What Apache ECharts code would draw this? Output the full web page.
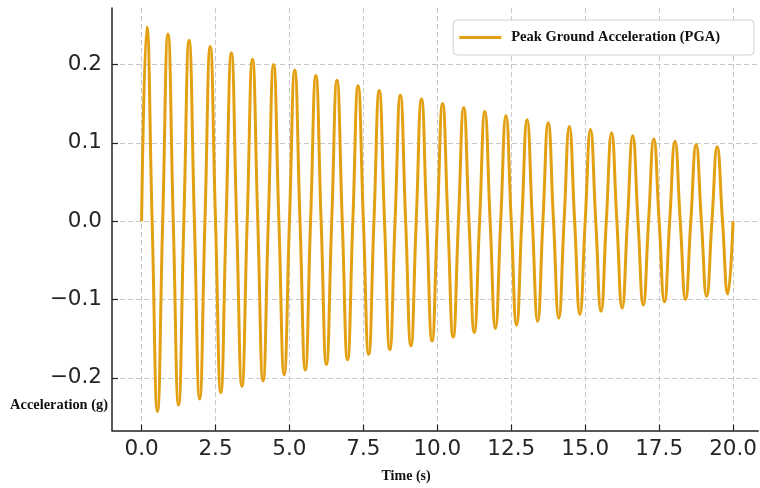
<!DOCTYPE html>
<html>
<head>
<meta charset="utf-8">
<script src="https://cdn.jsdelivr.net/npm/echarts@6/dist/echarts.min.js"></script>
<style>html,body{margin:0;padding:0;background:#fff;}#c{width:760px;height:488px;}</style>
</head>
<body>
<div id="c"></div>
<script>
// Zero crossings (s)
const crossingTimes = [0, 0.357, 0.714, 1.071, 1.429, 1.786, 2.143, 2.5, 2.857, 3.214, 3.571, 3.929, 4.286, 4.643, 5.0, 5.357, 5.714, 6.071, 6.429, 6.786, 7.143, 7.5, 7.857, 8.214, 8.571, 8.929, 9.286, 9.643, 10.0, 10.357, 10.714, 11.071, 11.429, 11.786, 12.143, 12.5, 12.857, 13.214, 13.571, 13.929, 14.286, 14.643, 15.0, 15.357, 15.714, 16.071, 16.429, 16.786, 17.143, 17.5, 17.857, 18.214, 18.571, 18.929, 19.286, 19.643, 20.0];
// Positive peaks
const peakTimes = [0.179, 0.893, 1.607, 2.321, 3.036, 3.750, 4.464, 5.179, 5.893, 6.607, 7.321, 8.036, 8.750, 9.464, 10.179, 10.893, 11.607, 12.321, 13.036, 13.750, 14.464, 15.179, 15.893, 16.607, 17.321, 18.036, 18.750, 19.464];
const peakValues = [0.248, 0.239, 0.231, 0.223, 0.215, 0.207, 0.200, 0.193, 0.186, 0.180, 0.173, 0.167, 0.161, 0.156, 0.150, 0.145, 0.140, 0.135, 0.130, 0.126, 0.121, 0.117, 0.113, 0.109, 0.105, 0.102, 0.098, 0.095];
// Negative troughs
const troughTimes = [0.536, 1.250, 1.964, 2.679, 3.393, 4.107, 4.821, 5.536, 6.250, 6.964, 7.679, 8.393, 9.107, 9.821, 10.536, 11.250, 11.964, 12.679, 13.393, 14.107, 14.821, 15.536, 16.250, 16.964, 17.679, 18.393, 19.107, 19.821];
const troughValues = [-0.243, -0.235, -0.227, -0.219, -0.211, -0.204, -0.196, -0.190, -0.183, -0.177, -0.170, -0.164, -0.159, -0.153, -0.148, -0.142, -0.137, -0.133, -0.128, -0.124, -0.119, -0.115, -0.111, -0.107, -0.103, -0.100, -0.096, -0.093];
// Tick labels
const xTicks = [0, 2.5, 5, 7.5, 10, 12.5, 15, 17.5, 20];
const yTicks = [-0.2, -0.1, 0, 0.1, 0.2];

const pts = [];
crossingTimes.forEach(t => pts.push([t, 0]));
peakTimes.forEach((t, i) => pts.push([t, peakValues[i]]));
troughTimes.forEach((t, i) => pts.push([t, troughValues[i]]));
pts.sort((a, b) => a[0] - b[0]);

const lineColor = '#E2A012';
const axisColor = '#222';
const chart = echarts.init(document.getElementById('c'), null, {renderer: 'canvas'});
chart.setOption({
  backgroundColor: '#fff',
  animation: false,
  grid: {left: 112, right: 0, top: 8, bottom: 51},
  legend: {
    right: 6, top: 20,
    icon: 'rect', itemWidth: 42, itemHeight: 3,
    padding: [10, 34, 10, 6],
    backgroundColor: '#fff', borderColor: '#d0d0d0', borderWidth: 1, borderRadius: 4,
    textStyle: {fontFamily: 'Liberation Serif', fontWeight: 'bold', fontSize: 14.5, color: '#111', padding: [0, 0, 0, 5]},
    data: ['Peak Ground Acceleration (PGA)']
  },
  xAxis: {
    type: 'value', min: -1, max: 20.85,
    name: 'Time (s)', nameLocation: 'middle', nameGap: 38.5,
    nameTextStyle: {fontFamily: 'Liberation Serif', fontWeight: 'bold', fontSize: 14, color: '#111', padding: [0, 58, 0, 0]},
    axisLine: {onZero: false, lineStyle: {color: axisColor, width: 1.5}},
    axisTick: {inside: true, length: 6, customValues: xTicks, lineStyle: {color: axisColor, width: 1.2}},
    axisLabel: {customValues: xTicks, margin: 8, fontFamily: 'DejaVu Sans', fontSize: 21.5, color: '#262626',
      formatter: v => v.toFixed(1)},
    splitLine: {show: true, lineStyle: {color: '#c8c8c8', type: [5, 3], width: 1}}
  },
  yAxis: {
    type: 'value', min: -0.2673, max: 0.2723,
    name: 'Acceleration (g)', nameLocation: 'start', nameGap: -25,
    nameTextStyle: {fontFamily: 'Liberation Serif', fontWeight: 'bold', fontSize: 14.4, color: '#111', align: 'right', verticalAlign: 'middle', padding: [0, 4, 0, 0]},
    axisLine: {show: true, onZero: false, lineStyle: {color: axisColor, width: 1.5}},
    axisTick: {show: true, inside: true, length: 6, customValues: yTicks, lineStyle: {color: axisColor, width: 1.2}},
    axisLabel: {customValues: yTicks, margin: 10, fontFamily: 'DejaVu Sans', fontSize: 21.5, color: '#262626',
      formatter: v => v.toFixed(1).replace('-', '\u2212')},
    splitLine: {show: true, lineStyle: {color: '#c8c8c8', type: [5, 3], width: 1}}
  },
  series: [{
    name: 'Peak Ground Acceleration (PGA)',
    type: 'line', data: pts, smooth: 0.5, showSymbol: false, symbol: 'none',
    lineStyle: {color: lineColor, width: 3}, itemStyle: {color: lineColor}
  }]
});
</script>
</body>
</html>
